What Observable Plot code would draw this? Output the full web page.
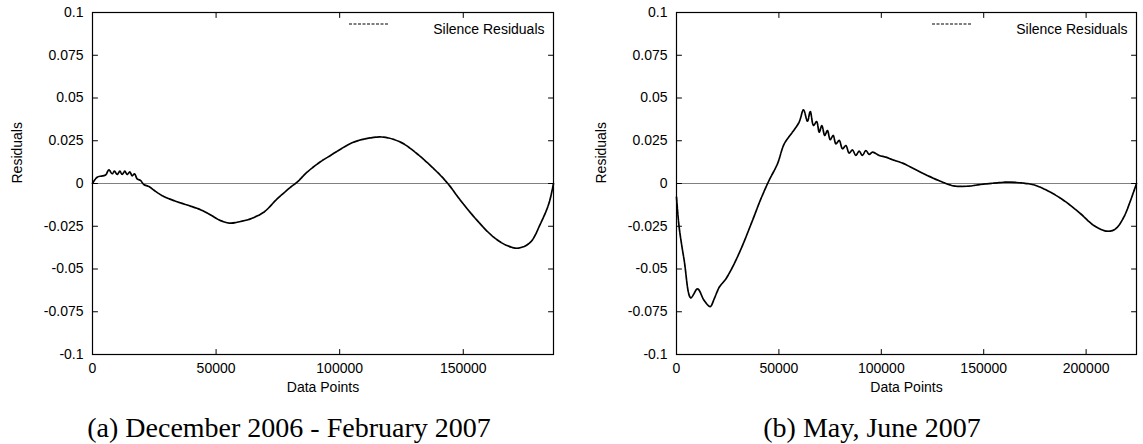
<!DOCTYPE html>
<html><head><meta charset="utf-8">
<script src="https://cdn.jsdelivr.net/npm/d3@7"></script>
<script src="https://cdn.jsdelivr.net/npm/@observablehq/plot@0.6"></script>
<style>
body{margin:0;background:#fff;}
#wrap{position:relative;width:1143px;height:444px;overflow:hidden;background:#fff;}
.panel{position:absolute;top:0;}
.cap{position:absolute;top:412px;font-family:"Liberation Serif","Times New Roman",serif;font-size:28px;line-height:32px;white-space:nowrap;transform:translateX(-50%);color:#000;}
</style></head><body><div id="wrap"></div>
<script>
// ---- data ----
const yTicks = [-0.1, -0.075, -0.05, -0.025, 0, 0.025, 0.05, 0.075, 0.1];
const xTicksA = [0, 50000, 100000, 150000];
const xTicksB = [0, 50000, 100000, 150000, 200000];
const xMaxA = 186500;
const xMaxB = 224600;
const seriesName = "Silence Residuals";
const xLabel = "Data Points";
const yLabel = "Residuals";
const captionA = "(a) December 2006 - February 2007";
const captionB = "(b) May, June 2007";

const leftX = [0,1900,5300,6600,7960,8900,9990,11050,12000,13070,14030,15100,16050,17000,18070,19400,20760,22800,25500,28200,32900,38300,43700,47800,51800,55800,59900,63900,69300,74700,80100,82800,86800,92200,96300,99000,105700,112500,117800,124600,131300,138100,143500,148900,155600,162300,167700,172400,177200,181200,184600,186500];
const leftY = [0,0.0037,0.005,0.008,0.0057,0.0072,0.0053,0.0072,0.0053,0.0072,0.0053,0.0068,0.0045,0.0057,0.0027,0.0018,-0.0006,-0.0018,-0.0046,-0.0071,-0.0100,-0.0126,-0.0153,-0.0184,-0.0217,-0.0232,-0.0222,-0.0207,-0.0168,-0.0090,-0.0022,0.0008,0.0066,0.0127,0.0164,0.0189,0.0242,0.0267,0.0271,0.0242,0.0174,0.0086,0.0004,-0.0099,-0.0216,-0.0314,-0.0363,-0.0378,-0.0343,-0.0236,-0.0119,0.0];

const rightX = [0,1300,3760,7000,10250,13500,16450,18400,20850,24100,28150,32200,37100,41200,45200,49300,52600,56600,59900,62000,63950,65300,66900,68400,69700,70950,72400,73700,75050,76500,77800,79450,81050,82700,84300,85900,87550,89200,90800,92450,94100,95700,99000,102200,105500,110400,115900,122400,128900,135400,141900,148400,154900,161500,169600,174500,181000,189100,197300,203800,210300,214400,218400,221700,224600];
const rightY = [-0.008,-0.0256,-0.045,-0.0669,-0.0616,-0.0684,-0.072,-0.0675,-0.0607,-0.0558,-0.047,-0.0363,-0.0216,-0.009,0.0018,0.0115,0.0232,0.03,0.0359,0.0431,0.0364,0.0421,0.0339,0.0362,0.03,0.0339,0.0281,0.031,0.0256,0.0281,0.0232,0.0252,0.0203,0.0222,0.0177,0.0197,0.0164,0.0189,0.0164,0.0193,0.017,0.0183,0.0164,0.0154,0.0139,0.0119,0.0086,0.0047,0.0013,-0.0014,-0.0016,-0.0006,0.0002,0.0008,0.0002,-0.0008,-0.0041,-0.0099,-0.0177,-0.0246,-0.0279,-0.0265,-0.0197,-0.0099,0.0];

const wrap = document.getElementById("wrap");
const W = 571, H = 400;
const tickShape = {draw(context, l) { context.moveTo(0, 0); context.lineTo(0, -l); }};

function inTicks(values, dim, anchor, rotate) {
  const o = {frameAnchor: anchor, length: 5, rotate, anchor: "start", shape: tickShape, stroke: "black", strokeWidth: 1};
  o[dim] = d => d;
  return Plot.vector(values, o);
}

function panel(xs, ys, xmax, xticks, ml, mr, left, capText, capCenter) {
  const data = xs.map((x, i) => ({x, y: ys[i]}));
  const fmtY = d => String(+d.toFixed(3));
  const plot = Plot.plot({
    width: W, height: H,
    marginTop: 12, marginBottom: 46, marginLeft: ml, marginRight: mr,
    style: {fontFamily: "'Liberation Sans', Arial, sans-serif", fontSize: "14px", background: "white", color: "black", overflow: "visible"},
    x: {domain: [0, xmax]},
    y: {domain: [-0.1, 0.1]},
    marks: [
      Plot.ruleY([0], {stroke: "#808080", strokeWidth: 1.2}),
      Plot.line(data, {x: "x", y: "y", stroke: "black", strokeWidth: 1.7, strokeDasharray: "5,1", curve: "catmull-rom"}),
      Plot.axisX(xticks, {anchor: "bottom", tickSize: 0, tickPadding: 9, tickFormat: d => String(d), label: null}),
      Plot.axisY(yTicks, {anchor: "left", tickSize: 0, tickPadding: 9, tickFormat: fmtY, label: null}),
      inTicks(xticks, "x", "bottom", 0),
      inTicks(xticks, "x", "top", 180),
      inTicks(yTicks, "y", "left", 90),
      inTicks(yTicks, "y", "right", -90),
      Plot.frame({stroke: "black", strokeWidth: 1.2}),
      Plot.text([xLabel], {frameAnchor: "bottom", dy: 37}),
      Plot.text([yLabel], {frameAnchor: "left", dx: -75, rotate: -90}),
      Plot.text([seriesName], {frameAnchor: "top-right", dx: -9, dy: 12, textAnchor: "end"})
    ]
  });
  // legend sample line
  const fr = W - mr;
  d3.select(plot).append("line")
    .attr("x1", fr - 204).attr("x2", fr - 164)
    .attr("y1", 24).attr("y2", 24)
    .attr("stroke", "black").attr("stroke-width", 1.2).attr("stroke-dasharray", "3,1.5");
  const div = document.createElement("div");
  div.className = "panel";
  div.style.left = left + "px";
  div.appendChild(plot);
  wrap.appendChild(div);
  const cap = document.createElement("div");
  cap.className = "cap";
  cap.style.left = capCenter + "px";
  cap.textContent = capText;
  wrap.appendChild(cap);
}

panel(leftX, leftY, xMaxA, xTicksA, 92, W - 553, 0, captionA, 289);
panel(rightX, rightY, xMaxB, xTicksB, 105, W - 565, 571, captionB, 872);
</script>
</body></html>
